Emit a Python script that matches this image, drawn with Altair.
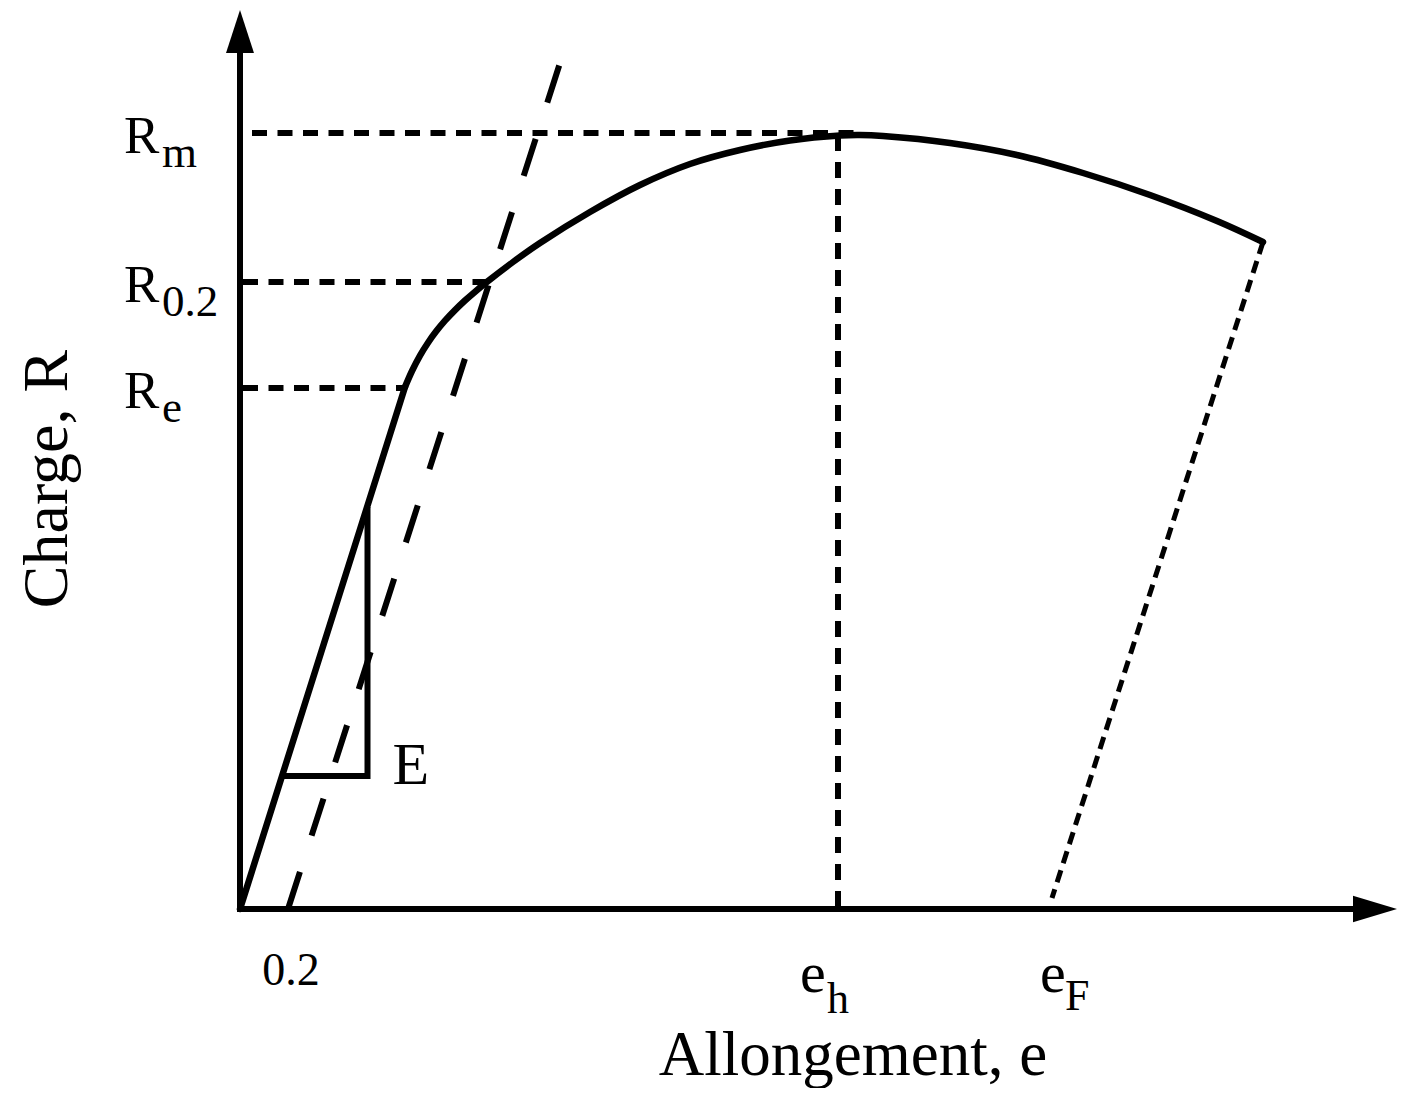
import altair as alt
import pandas as pd

# ---------------- data (schematic units: strain e on x, load R on y) ----------------
curve_e = [165, 172, 180, 188, 196, 205, 215, 225, 236, 247, 273, 300, 350, 400, 450,
           500, 550, 600, 620, 643, 710, 777, 843, 910, 977, 1023]
curve_R = [522, 538, 553.4, 566.3, 577.4, 588.3, 598.9, 608.5, 618.1, 627.1, 647, 666, 697,
           724, 745, 759, 768.5, 773.5, 774, 773, 766, 754, 736, 714, 688, 667]
elastic_e = [0, 165]
elastic_R = [0, 522]
offset_e = [48, 320]          # 0.2 % offset (parallel) line
offset_R = [0, 846]
level_sub = ["m", "0.2", "e"]   # R_m, R_0.2, R_e
level_R = [776, 627, 521]
level_from = [12, 3, 3]
level_to = [618, 247, 167]
e_h = 598
e_h_R = 774
e_F = 812
fracture_e = [1023, 812]
fracture_R = [667, 11]
tri_e = [42, 127.5, 127.5]
tri_R = [133, 133, 402]
tri_order = [0, 1, 2]
axis_x_end = 1115
axis_y_end = 857
arrow_x = 1135
arrow_y = 877.5
x_title_e = 613
y_title_e = -173
y_title_R = 430

FONT = "Liberation Serif"
xs = alt.Scale(domain=[-232, 1157], nice=False, zero=False)
ys = alt.Scale(domain=[-179, 901], nice=False, zero=False)


def X(f="x"):
    return alt.X(f"{f}:Q", scale=xs, axis=None)


def Y(f="y"):
    return alt.Y(f"{f}:Q", scale=ys, axis=None)


layers = []

# axes
axes_df = pd.DataFrame({"x": [0, 0], "x2": [0, axis_x_end], "y": [0, 0], "y2": [axis_y_end, 0]})
layers.append(alt.Chart(axes_df).mark_rule(color="black", strokeWidth=6, strokeCap="square")
              .encode(x=X(), y=Y(), x2="x2:Q", y2="y2:Q"))
# arrow heads
layers.append(alt.Chart(pd.DataFrame({"x": [0], "y": [arrow_y]}))
              .mark_point(shape="M0,-1L0.65,1L-0.65,1Z", size=1849, filled=True,
                          color="black", opacity=1, strokeWidth=0)
              .encode(x=X(), y=Y()))
layers.append(alt.Chart(pd.DataFrame({"x": [arrow_x], "y": [0]}))
              .mark_point(shape="M1,0L-1,-0.6L-1,0.6Z", size=1936, filled=True,
                          color="black", opacity=1, strokeWidth=0)
              .encode(x=X(), y=Y()))

# horizontal short-dashed level lines
lev_df = pd.DataFrame({"x": level_from, "x2": level_to, "y": level_R, "sub": level_sub})
layers.append(alt.Chart(lev_df).mark_rule(color="black", strokeWidth=6, strokeDash=[15, 10.5])
              .encode(x=X(), x2="x2:Q", y=Y()))
# vertical dashed at e_h
layers.append(alt.Chart(pd.DataFrame({"x": [e_h], "y": [e_h_R], "y2": [0]}))
              .mark_rule(color="black", strokeWidth=6, strokeDash=[16, 11])
              .encode(x=X(), y=Y(), y2="y2:Q"))
# offset long-dashed line
layers.append(alt.Chart(pd.DataFrame({"x": [offset_e[0]], "x2": [offset_e[1]],
                                      "y": [offset_R[0]], "y2": [offset_R[1]]}))
              .mark_rule(color="black", strokeWidth=6, strokeDash=[39, 38])
              .encode(x=X(), x2="x2:Q", y=Y(), y2="y2:Q"))
# fracture (unloading) dotted line
layers.append(alt.Chart(pd.DataFrame({"x": [fracture_e[0]], "x2": [fracture_e[1]],
                                      "y": [fracture_R[0]], "y2": [fracture_R[1]]}))
              .mark_rule(color="black", strokeWidth=5, strokeDash=[12.5, 7.5])
              .encode(x=X(), x2="x2:Q", y=Y(), y2="y2:Q"))
# elastic line
layers.append(alt.Chart(pd.DataFrame({"x": [elastic_e[0]], "x2": [elastic_e[1]],
                                      "y": [elastic_R[0]], "y2": [elastic_R[1]]}))
              .mark_rule(color="black", strokeWidth=6.5, strokeCap="round")
              .encode(x=X(), x2="x2:Q", y=Y(), y2="y2:Q"))
# plastic curve
layers.append(alt.Chart(pd.DataFrame({"x": curve_e, "y": curve_R}))
              .mark_line(color="black", strokeWidth=6.5, strokeCap="round", strokeJoin="round",
                         interpolate="catmull-rom")
              .encode(x=X(), y=Y()))
# modulus triangle
layers.append(alt.Chart(pd.DataFrame({"x": tri_e, "y": tri_R, "o": tri_order}))
              .mark_line(color="black", strokeWidth=6, strokeJoin="miter")
              .encode(x=X(), y=Y(), order="o:Q"))

# ---------------- texts ----------------
txt = dict(font=FONT, color="black", baseline="alphabetic")
layers.append(alt.Chart(lev_df).mark_text(align="left", dx=-116, dy=20, fontSize=53, text="R", **txt)
              .encode(x=alt.value(232), y=Y()))
layers.append(alt.Chart(lev_df).mark_text(align="left", dx=-78, dy=34, fontSize=45, **txt)
              .encode(x=alt.value(232), y=Y(), text="sub:N"))
layers.append(alt.Chart(pd.DataFrame({"x": [offset_e[0]], "y": [0], "t": ["0.2"]}))
              .mark_text(align="center", dx=3, dy=76, fontSize=46, **txt)
              .encode(x=X(), y=Y(), text="t:N"))
eh_df = pd.DataFrame({"x": [e_h], "y": [0]})
layers.append(alt.Chart(eh_df).mark_text(align="left", dx=-38, dy=83, fontSize=58, text="e", **txt)
              .encode(x=X(), y=Y()))
layers.append(alt.Chart(eh_df).mark_text(align="left", dx=-11, dy=104, fontSize=44, text="h", **txt)
              .encode(x=X(), y=Y()))
ef_df = pd.DataFrame({"x": [e_F], "y": [0]})
layers.append(alt.Chart(ef_df).mark_text(align="left", dx=-12, dy=83, fontSize=58, text="e", **txt)
              .encode(x=X(), y=Y()))
layers.append(alt.Chart(ef_df).mark_text(align="left", dx=13, dy=101, fontSize=44, text="F", **txt)
              .encode(x=X(), y=Y()))
layers.append(alt.Chart(pd.DataFrame({"x": [tri_e[2]], "y": [tri_R[1]]}))
              .mark_text(align="left", dx=25, dy=8, fontSize=60, text="E", **txt)
              .encode(x=X(), y=Y()))
layers.append(alt.Chart(pd.DataFrame({"x": [x_title_e], "y": [0]}))
              .mark_text(align="center", dy=166, fontSize=63, text="Allongement, e", **txt)
              .encode(x=X(), y=Y()))
layers.append(alt.Chart(pd.DataFrame({"x": [y_title_e], "y": [y_title_R]}))
              .mark_text(align="center", angle=270, fontSize=64, text="Charge, R", **txt)
              .encode(x=X(), y=Y()))

chart = alt.layer(*layers).properties(
    width=1389, height=1080,
    autosize=alt.AutoSizeParams(type="none"),
    padding=0,
    background="white",
).configure_view(stroke="transparent")

chart.save("out.html", embed_options={"renderer": "svg", "actions": False})
